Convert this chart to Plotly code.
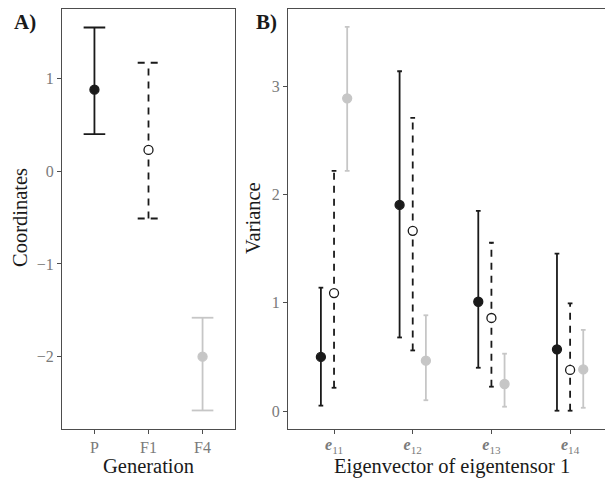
import plotly.graph_objects as go

# ---------------- data ----------------
gen_labels = ["P", "F1", "F4"]
coord_mean = [0.88, 0.23, -2.00]
coord_low = [0.40, -0.51, -2.58]
coord_high = [1.55, 1.17, -1.58]

eig_labels = ["11", "12", "13", "14"]
var_P_mean = [0.50, 1.905, 1.01, 0.57]
var_P_low = [0.05, 0.68, 0.40, 0.003]
var_P_high = [1.14, 3.14, 1.85, 1.455]
var_F1_mean = [1.09, 1.665, 0.86, 0.38]
var_F1_low = [0.215, 0.56, 0.225, 0.003]
var_F1_high = [2.22, 2.71, 1.555, 0.995]
var_F4_mean = [2.89, 0.465, 0.25, 0.385]
var_F4_low = [2.22, 0.10, 0.04, 0.03]
var_F4_high = [3.55, 0.885, 0.53, 0.75]

# ---------------- styles ----------------
BLACK = "#1a1a1a"
GREY = "#c6c6c6"
AX = "#4d4d4d"
TICK = "#7a7a7a"
FONT = "Liberation Serif"
DASH = "7px,6px"

styles = {
    "P": dict(color=BLACK, dash="solid", mfill=BLACK),
    "F1": dict(color=BLACK, dash=DASH, mfill="white"),
    "F4": dict(color=GREY, dash="solid", mfill=GREY),
}

fig = go.Figure()


def add_errbars(xs, lows, highs, means, st, xa, ya, cap, lw):
    vx, vy, cx, cy = [], [], [], []
    for x, lo, hi in zip(xs, lows, highs):
        vx += [x, x, None]
        vy += [lo, hi, None]
        for yv in (lo, hi):
            cx += [x - cap, x + cap, None]
            cy += [yv, yv, None]
    fig.add_trace(go.Scatter(x=vx, y=vy, mode="lines", xaxis=xa, yaxis=ya,
                             line=dict(color=st["color"], width=lw, dash=st["dash"]),
                             hoverinfo="skip", showlegend=False))
    fig.add_trace(go.Scatter(x=cx, y=cy, mode="lines", xaxis=xa, yaxis=ya,
                             line=dict(color=st["color"], width=lw, dash=st["dash"]),
                             hoverinfo="skip", showlegend=False))
    fig.add_trace(go.Scatter(x=xs, y=means, mode="markers", xaxis=xa, yaxis=ya,
                             marker=dict(size=9, color=st["mfill"],
                                         line=dict(color=st["color"], width=1.3)),
                             showlegend=False))


# Panel A
for i, g in enumerate(gen_labels):
    add_errbars([i], [coord_low[i]], [coord_high[i]], [coord_mean[i]],
                styles[g], "x", "y", 0.2, 1.8)

# Panel B
dodge = {"P": -0.167, "F1": 0.0, "F4": 0.167}
series = {
    "P": (var_P_mean, var_P_low, var_P_high),
    "F1": (var_F1_mean, var_F1_low, var_F1_high),
    "F4": (var_F4_mean, var_F4_low, var_F4_high),
}
for g in ["P", "F1", "F4"]:
    m, lo, hi = series[g]
    xs = [k + 1 + dodge[g] for k in range(len(eig_labels))]
    add_errbars(xs, lo, hi, m, styles[g], "x2", "y2", 0.03, 1.8)

# page is offset by the 8px body margin
OFF = 8
W, H = 613 - OFF, 478 - OFF


def fx(px):
    return (px - OFF) / W


def fy(py):
    return (H - (py - OFF)) / H


ax_common = dict(showgrid=False, zeroline=False, showline=True, linecolor=AX,
                 linewidth=1.2, ticks="outside", ticklen=4, tickcolor=AX, tickwidth=1.2,
                 tickfont=dict(family=FONT, size=16, color=TICK))

fig.update_layout(
    width=W, height=H, margin=dict(l=0, r=0, t=0, b=0),
    plot_bgcolor="white", paper_bgcolor="white",
    font=dict(family=FONT),
    xaxis=dict(domain=[fx(62), fx(235)], range=[-0.6, 2.6],
               tickvals=list(range(len(gen_labels))), ticktext=gen_labels,
               mirror=True, anchor="y", **ax_common),
    yaxis=dict(domain=[fy(429), fy(8.5)], range=[-2.78, 1.755],
               tickvals=[-2, -1, 0, 1], ticktext=["\u22122", "\u22121", "0", "1"],
               mirror=True, anchor="x", **ax_common),
    xaxis2=dict(domain=[fx(288), 1.0], range=[0.415, 4.545],
                tickvals=[1, 2, 3, 4],
                ticktext=["<b><i>e</i></b><sub>%s</sub>" % s for s in eig_labels],
                ticklabelstandoff=-3,
                mirror=True, anchor="y2", **ax_common),
    yaxis2=dict(domain=[fy(429), fy(8.5)], range=[-0.166, 3.72],
                tickvals=[0, 1, 2, 3], anchor="x2", **ax_common),
)

ann = [
    dict(text="<b>A)</b>", x=12, y=22, xanchor="left", size=21, angle=0),
    dict(text="<b>B)</b>", x=254, y=22, xanchor="left", size=21, angle=0),
    dict(text="Coordinates", x=20, y=218, xanchor="center", size=20.5, angle=-90),
    dict(text="Generation", x=148, y=466, xanchor="center", size=20.5, angle=0),
    dict(text="Variance", x=253, y=218, xanchor="center", size=20.5, angle=-90),
    dict(text="Eigenvector of eigentensor 1", x=452, y=466, xanchor="center", size=20.5, angle=0),
]
for a in ann:
    fig.add_annotation(text=a["text"], x=fx(a["x"]), y=fy(a["y"]), xref="paper", yref="paper",
                       xanchor=a["xanchor"], yanchor="middle", showarrow=False,
                       textangle=a["angle"],
                       font=dict(family=FONT, size=a["size"], color="#1a1a1a"))

fig.write_html("out.html")
